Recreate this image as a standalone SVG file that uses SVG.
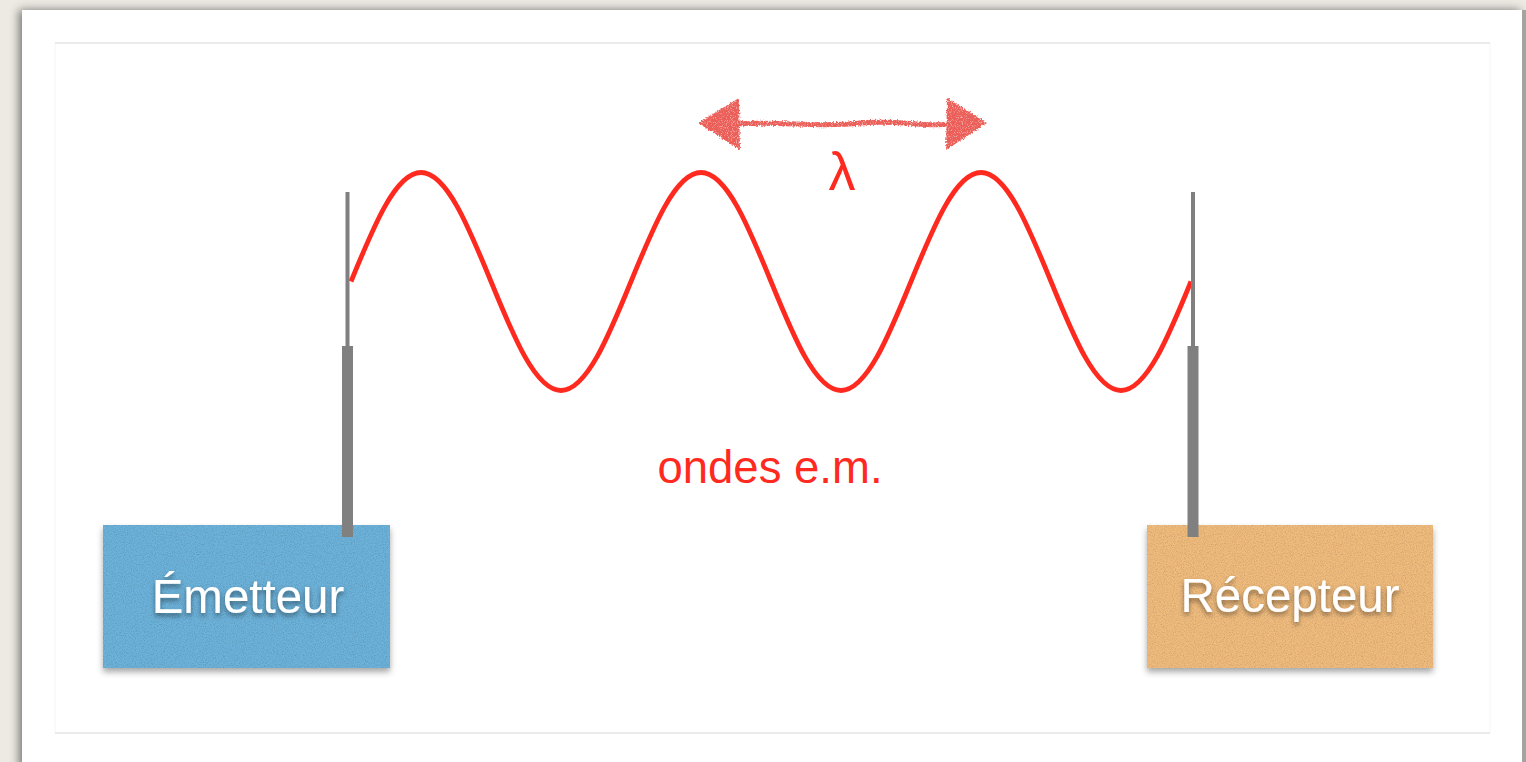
<svg xmlns="http://www.w3.org/2000/svg" width="1526" height="762" viewBox="0 0 1526 762">
  <style>
    .label { font-family: "Liberation Sans", Arial, sans-serif; font-size: 47.5px; fill: #ffffff; text-anchor: middle; }
    .red { font-family: "Liberation Sans", Arial, sans-serif; fill: #ff2a1f; text-anchor: middle; }
    .rod { fill: #808080; }
    .wave { fill: none; stroke: #ff2a1f; stroke-width: 4.8; stroke-linecap: butt; }
    .panel-line { stroke: #e6e6e6; stroke-width: 1.5; }
  </style>
  <defs>
    <filter id="cardShadow" x="-5%" y="-5%" width="110%" height="110%">
      <feGaussianBlur in="SourceAlpha" stdDeviation="5"/>
      <feOffset dx="-3" dy="0" result="b"/>
      <feFlood flood-color="#000" flood-opacity="0.5"/>
      <feComposite in2="b" operator="in"/>
      <feMerge><feMergeNode/><feMergeNode in="SourceGraphic"/></feMerge>
    </filter>
    <filter id="boxFx" x="-10%" y="-10%" width="120%" height="125%">
      <feTurbulence type="fractalNoise" baseFrequency="0.9" numOctaves="2" seed="3" result="noise"/>
      <feColorMatrix in="noise" type="matrix" values="0 0 0 0 0  0 0 0 0 0  0 0 0 0 0  0 0 0 -0.6 0.36" result="spots"/>
      <feComposite in="spots" in2="SourceAlpha" operator="in" result="spotsIn"/>
      <feMerge result="tex"><feMergeNode in="SourceGraphic"/><feMergeNode in="spotsIn"/></feMerge>
      <feGaussianBlur in="SourceAlpha" stdDeviation="3"/>
      <feOffset dx="0" dy="4" result="sb"/>
      <feFlood flood-color="#000" flood-opacity="0.35"/>
      <feComposite in2="sb" operator="in" result="shadow"/>
      <feMerge><feMergeNode in="shadow"/><feMergeNode in="tex"/></feMerge>
    </filter>
    <filter id="textShadow" x="-10%" y="-20%" width="120%" height="150%">
      <feGaussianBlur in="SourceAlpha" stdDeviation="2.5"/>
      <feOffset dx="0" dy="3" result="o"/>
      <feFlood flood-color="#000" flood-opacity="0.45"/>
      <feComposite in2="o" operator="in"/>
      <feMerge><feMergeNode/><feMergeNode in="SourceGraphic"/></feMerge>
    </filter>
    <filter id="chalk" x="-5%" y="-30%" width="110%" height="160%">
      <feTurbulence type="fractalNoise" baseFrequency="0.6" numOctaves="2" seed="7" result="t"/>
      <feDisplacementMap in="SourceGraphic" in2="t" scale="4" xChannelSelector="R" yChannelSelector="G" result="d"/>
      <feTurbulence type="fractalNoise" baseFrequency="1.2" numOctaves="1" seed="11" result="n"/>
      <feColorMatrix in="n" type="matrix" values="0 0 0 0 1  0 0 0 0 1  0 0 0 0 1  0 0 0 -1.6 0.75" result="holes"/>
      <feComposite in="holes" in2="d" operator="in" result="h2"/>
      <feMerge><feMergeNode in="d"/><feMergeNode in="h2"/></feMerge>
    </filter>
  </defs>

  <!-- page background and card -->
  <rect x="0" y="0" width="1526" height="762" fill="#edeae4"/>
  <rect x="22" y="10" width="1501" height="760" fill="#ffffff" filter="url(#cardShadow)"/>
  <rect x="1522" y="10" width="4" height="752" fill="#a3a3a0"/>
  <rect x="55" y="43" width="1435" height="690" fill="#ffffff" stroke="#f6f6f6" stroke-width="1"/>
  <line class="panel-line" x1="55" y1="43" x2="1490" y2="43"/>
  <line class="panel-line" x1="55" y1="733" x2="1490" y2="733"/>

  <!-- connectors / wave -->
  <g id="connectors">
    <path class="wave" d="M351,281.5 c22.83,-55.84 44.67,-109 70,-109 s47.17,53.16 70,109 s44.67,109 70,109 s47.17,-53.16 70,-109 s44.67,-109 70,-109 s47.17,53.16 70,109 s44.67,109 70,109 s47.17,-53.16 70,-109 s44.67,-109 70,-109 s47.17,53.16 70,109 s44.67,109 70,109 s47.17,-53.16 70,-109"/>
    <g id="lambda-arrow" filter="url(#chalk)" fill="#eb5f58">
      <path d="M736,124 C780,121 820,128 860,123 C900,120 925,127 950,124" fill="none" stroke="#eb5f58" stroke-width="5"/>
      <polygon points="698,123 739,98 740,150"/>
      <polygon points="987,123 947,98 946,150"/>
    </g>
  </g>

  <text class="red" x="842" y="190" font-size="54">λ</text>
  <text class="red" x="770" y="483" font-size="45.5">ondes e.m.</text>

  <g id="emetteur">
    <rect x="103" y="525" width="287" height="143" fill="#6db2da" filter="url(#boxFx)"/>
    <text class="label" x="248" y="613" filter="url(#textShadow)">Émetteur</text>
  </g>
  <g id="recepteur">
    <rect x="1147" y="525" width="286" height="143" fill="#f0bc7e" filter="url(#boxFx)"/>
    <text class="label" x="1290" y="612" filter="url(#textShadow)">Récepteur</text>
  </g>

  <g id="antenne-emetteur">
    <rect class="rod" x="345.5" y="192" width="4" height="155"/>
    <rect class="rod" x="342" y="346" width="11" height="191"/>
  </g>
  <g id="antenne-recepteur">
    <rect class="rod" x="1191" y="192" width="4" height="155"/>
    <rect class="rod" x="1187.5" y="346" width="11" height="191"/>
  </g>
</svg>
